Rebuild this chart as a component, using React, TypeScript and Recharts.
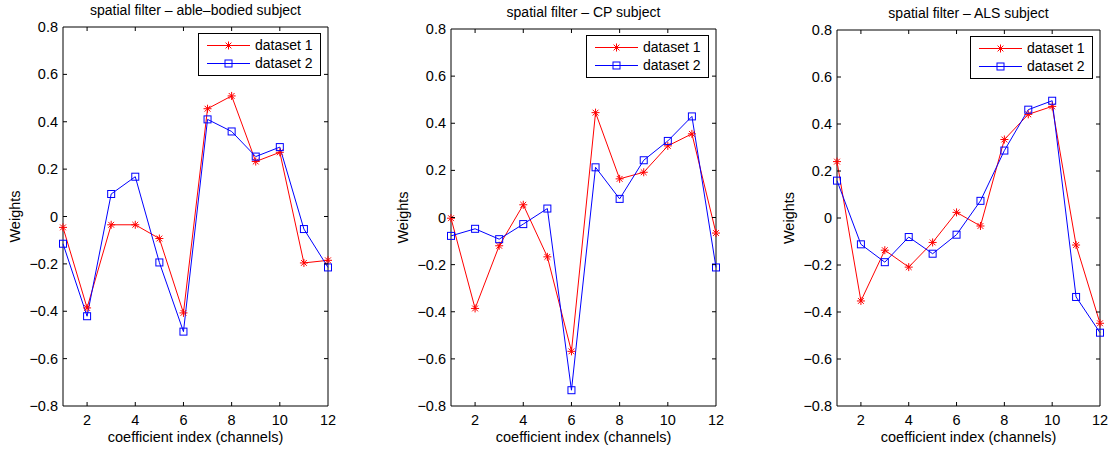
import React from "react";
import { LineChart, Line, XAxis, YAxis, ReferenceArea, Legend } from "recharts";

const channels = [1, 2, 3, 4, 5, 6, 7, 8, 9, 10, 11, 12];
const xTicks = [2, 4, 6, 8, 10, 12];
const yTicks = [-0.8, -0.6, -0.4, -0.2, 0, 0.2, 0.4, 0.6, 0.8];
const seriesNames = ["dataset 1", "dataset 2"];

const titles = [
  "spatial filter – able–bodied subject",
  "spatial filter – CP subject",
  "spatial filter – ALS subject",
];

// able-bodied
const ableSet1 = [-0.046, -0.386, -0.035, -0.035, -0.093, -0.407, 0.455, 0.509, 0.232, 0.271, -0.196, -0.185];
const ableSet2 = [-0.115, -0.421, 0.095, 0.168, -0.194, -0.486, 0.41, 0.359, 0.253, 0.293, -0.053, -0.215];
// CP
const cpSet1 = [-0.003, -0.386, -0.12, 0.054, -0.167, -0.568, 0.445, 0.164, 0.192, 0.304, 0.355, -0.066];
const cpSet2 = [-0.078, -0.048, -0.092, -0.028, 0.038, -0.733, 0.213, 0.079, 0.243, 0.325, 0.429, -0.212];
// ALS
const alsSet1 = [0.24, -0.353, -0.137, -0.209, -0.104, 0.024, -0.034, 0.334, 0.441, 0.475, -0.115, -0.448];
const alsSet2 = [0.159, -0.112, -0.188, -0.081, -0.152, -0.071, 0.073, 0.287, 0.461, 0.499, -0.336, -0.488];

const RED = "#ff0000";
const BLUE = "#0000ff";
const FONT = "'Liberation Sans', Arial, Helvetica, sans-serif";

const panels = [
  { title: titles[0], left: 63, right: 328, top: 27, s1: ableSet1, s2: ableSet2 },
  { title: titles[1], left: 451, right: 716, top: 29, s1: cpSet1, s2: cpSet2 },
  { title: titles[2], left: 837, right: 1100, top: 30, s1: alsSet1, s2: alsSet2 },
];
const BOTTOM = 406;
const YW = 63;
const RM = 12;
const TM = 5;

const fmt = (v: number) => {
  const s = String(Math.round(v * 10) / 10);
  return v < 0 ? "\u2212" + s.slice(1) : s;
};

function Star(props: any) {
  const { cx, cy, index, stroke } = props;
  if (cx == null || cy == null) return <g key={index} />;
  const r = 4;
  const d = 2.9;
  return (
    <g key={index} stroke={stroke} strokeWidth={1}>
      <line x1={cx - r} y1={cy} x2={cx + r} y2={cy} />
      <line x1={cx} y1={cy - r} x2={cx} y2={cy + r} />
      <line x1={cx - d} y1={cy - d} x2={cx + d} y2={cy + d} />
      <line x1={cx - d} y1={cy + d} x2={cx + d} y2={cy - d} />
    </g>
  );
}

function Square(props: any) {
  const { cx, cy, index, stroke } = props;
  if (cx == null || cy == null) return <g key={index} />;
  return <rect key={index} x={cx - 3.5} y={cy - 3.5} width={7} height={7} fill="none" stroke={stroke} strokeWidth={1} />;
}

function LegendBox() {
  return (
    <svg width={123} height={43} style={{ display: "block" }}>
      <rect x={0.5} y={0.5} width={122} height={42} fill="#fff" stroke="#000" strokeWidth={1} />
      <line x1={9} y1={12.5} x2={52} y2={12.5} stroke={RED} strokeWidth={1} />
      <Star cx={30.5} cy={12.5} stroke={RED} index={0} />
      <text x={57} y={12.5} dy="0.35em" fontSize={14} fontFamily={FONT} fill="#000">{seriesNames[0]}</text>
      <line x1={9} y1={30.5} x2={52} y2={30.5} stroke={BLUE} strokeWidth={1} />
      <Square cx={30.5} cy={30.5} stroke={BLUE} index={1} />
      <text x={57} y={30.5} dy="0.35em" fontSize={14} fontFamily={FONT} fill="#000">{seriesNames[1]}</text>
    </svg>
  );
}

function Panel({ p }: { p: (typeof panels)[number] }) {
  const plotW = p.right - p.left;
  const plotH = BOTTOM - p.top;
  const width = plotW + YW + RM;
  const data = channels.map((c, i) => ({ ch: c, d1: p.s1[i], d2: p.s2[i] }));

  const yTick = (props: any) => {
    const { x, y, payload } = props;
    const x0 = x + TM;
    const edge = Math.abs(payload.value) > 0.79;
    return (
      <g>
        {!edge && <line x1={x0} y1={y} x2={x0 + 4} y2={y} stroke="#000" />}
        {!edge && <line x1={x0 + plotW - 4} y1={y} x2={x0 + plotW} y2={y} stroke="#000" />}
        <text x={x} y={y} dy="0.35em" textAnchor="end" fontSize={14.5} fontFamily={FONT} fill="#000">
          {fmt(payload.value)}
        </text>
      </g>
    );
  };

  const xTick = (props: any) => {
    const { x, y, payload } = props;
    const y0 = y - TM;
    const edge = payload.value === 12;
    return (
      <g>
        {!edge && <line x1={x} y1={y0} x2={x} y2={y0 - 4} stroke="#000" />}
        {!edge && <line x1={x} y1={y0 - plotH} x2={x} y2={y0 - plotH + 4} stroke="#000" />}
        <text x={x} y={y0 + 14} dy="0.35em" textAnchor="middle" fontSize={14.5} fontFamily={FONT} fill="#000">
          {payload.value}
        </text>
      </g>
    );
  };

  return (
    <div style={{ position: "absolute", left: p.left - YW, top: 0, width, height: 450 }}>
      <div
        style={{
          position: "absolute",
          left: YW - 40,
          width: plotW + 80,
          top: p.top - 26,
          textAlign: "center",
          fontFamily: FONT,
          fontSize: 14,
          lineHeight: "18px",
          color: "#000",
          whiteSpace: "nowrap",
        }}
      >
        {p.title}
      </div>
      <LineChart width={width} height={450} data={data} margin={{ top: p.top, right: RM, bottom: 0, left: 0 }}>
        <ReferenceArea x1={1} x2={12} y1={-0.8} y2={0.8} fill="none" stroke="#000" strokeWidth={1} ifOverflow="visible" />
        <XAxis
          dataKey="ch"
          type="number"
          domain={[1, 12]}
          ticks={xTicks}
          height={450 - BOTTOM}
          tickSize={0}
          tickMargin={TM}
          axisLine={false}
          tick={xTick}
          label={{
            content: () => (
              <text x={YW + plotW / 2} y={437} dy="0.35em" textAnchor="middle" fontSize={14.5} fontFamily={FONT} fill="#000">
                coefficient index (channels)
              </text>
            ),
          }}
        />
        <YAxis
          type="number"
          domain={[-0.8, 0.8]}
          ticks={yTicks}
          width={YW}
          tickSize={0}
          tickMargin={TM}
          axisLine={false}
          tick={yTick}
          label={{
            content: () => (
              <text
                x={YW - 48}
                y={p.top + plotH / 2}
                dy="0.35em"
                textAnchor="middle"
                fontSize={14.5}
                fontFamily={FONT}
                fill="#000"
                transform={`rotate(-90 ${YW - 48} ${p.top + plotH / 2})`}
              >
                Weights
              </text>
            ),
          }}
        />
        <Legend
          layout="horizontal"
          verticalAlign="middle"
          align="center"
          content={() => <LegendBox />}
          wrapperStyle={{ position: "absolute", left: YW + plotW - 7 - 123, top: p.top + 6, width: 123, height: 43 }}
        />
        <Line dataKey="d1" name={seriesNames[0]} stroke={RED} strokeWidth={1} dot={(d: any) => <Star {...d} stroke={RED} key={d.index} />} isAnimationActive={false} />
        <Line dataKey="d2" name={seriesNames[1]} stroke={BLUE} strokeWidth={1} dot={(d: any) => <Square {...d} stroke={BLUE} key={d.index} />} isAnimationActive={false} />
      </LineChart>
    </div>
  );
}

export default function App() {
  return (
    <div style={{ position: "absolute", left: 0, top: 0, width: 1114, height: 450, background: "#fff" }}>
      {panels.map((p, i) => (
        <Panel key={i} p={p} />
      ))}
    </div>
  );
}
